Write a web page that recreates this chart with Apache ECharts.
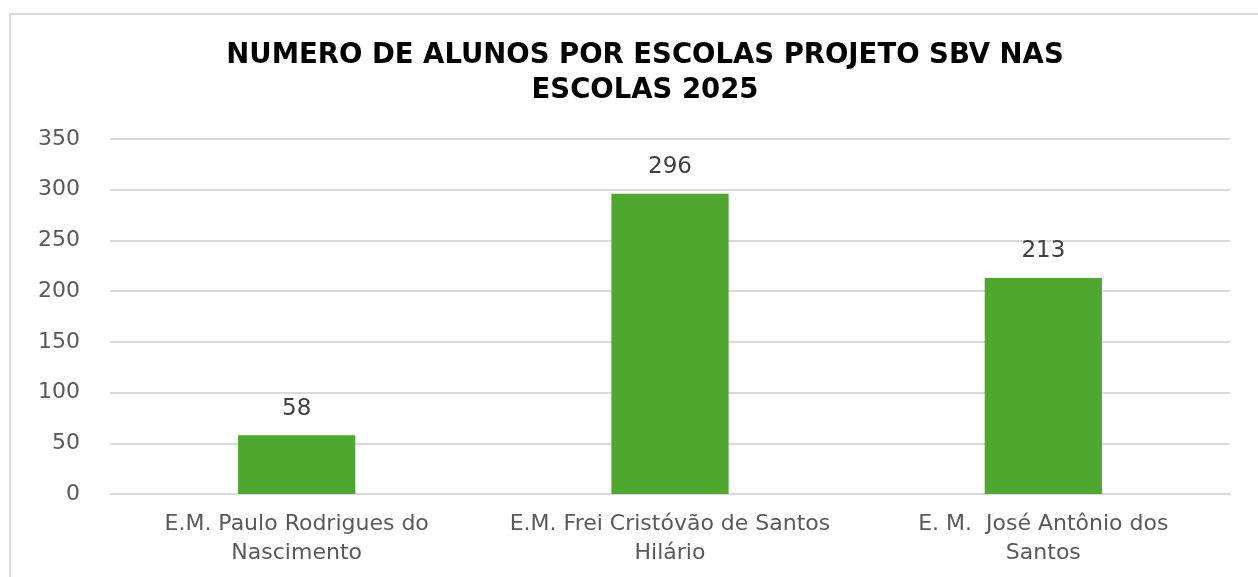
<!DOCTYPE html>
<html>
<head>
<meta charset="utf-8">
<script src="https://cdn.jsdelivr.net/npm/echarts@6/dist/echarts.min.js"></script>
<style>
  html, body { margin: 0; padding: 0; background: #fff; overflow: hidden; }
  #frame { position: absolute; left: 9px; top: 13px; width: 1400px; height: 700px; border: 2px solid #d9d9d9; box-sizing: border-box; }
  #chart { position: absolute; left: 0; top: 0; width: 1258px; height: 577px; }
</style>
</head>
<body>
<div id="frame"></div>
<div id="chart"></div>
<script>
// dados do gráfico
var escolas = ['E.M. Paulo Rodrigues do\nNascimento', 'E.M. Frei Cristóvão de Santos\nHilário', 'E. M.  José Antônio dos\nSantos'];
var alunos = [58, 296, 213];
var tituloGrafico = 'NUMERO DE ALUNOS POR ESCOLAS PROJETO SBV NAS\nESCOLAS 2025';

var chart = echarts.init(document.getElementById('chart'), null, { renderer: 'canvas' });

chart.setOption({
    animation: false,
    title: {
        text: tituloGrafico,
        left: 640,
        textAlign: 'center',
        top: 33,
        textStyle: {
            fontFamily: 'DejaVu Sans',
            fontWeight: 'bold',
            fontSize: 27.5,
            lineHeight: 35,
            color: '#000'
        }
    },
    grid: {
        left: 110,
        right: 28,
        top: 139,
        bottom: 83
    },
    xAxis: {
        type: 'category',
        data: escolas,
        axisLine: { show: true, lineStyle: { color: '#d9d9d9', width: 2 } },
        axisTick: { show: false },
        axisLabel: {
            color: '#595959',
            fontFamily: 'DejaVu Sans',
            fontSize: 22,
            lineHeight: 29,
            margin: 16,
            interval: 0
        }
    },
    yAxis: {
        type: 'value',
        min: 0,
        max: 350,
        interval: 50,
        axisLine: { show: false },
        axisTick: { show: false },
        splitLine: { lineStyle: { color: '#d9d9d9', width: 2 } },
        axisLabel: {
            color: '#595959',
            fontFamily: 'DejaVu Sans',
            fontSize: 22,
            margin: 30
        }
    },
    series: [{
        type: 'bar',
        data: alunos,
        barWidth: '31.4%',
        itemStyle: { color: '#4ea72e' },
        label: {
            show: true,
            position: 'top',
            distance: 15,
            color: '#404040',
            fontFamily: 'DejaVu Sans',
            fontSize: 23
        }
    }]
});
</script>
</body>
</html>
